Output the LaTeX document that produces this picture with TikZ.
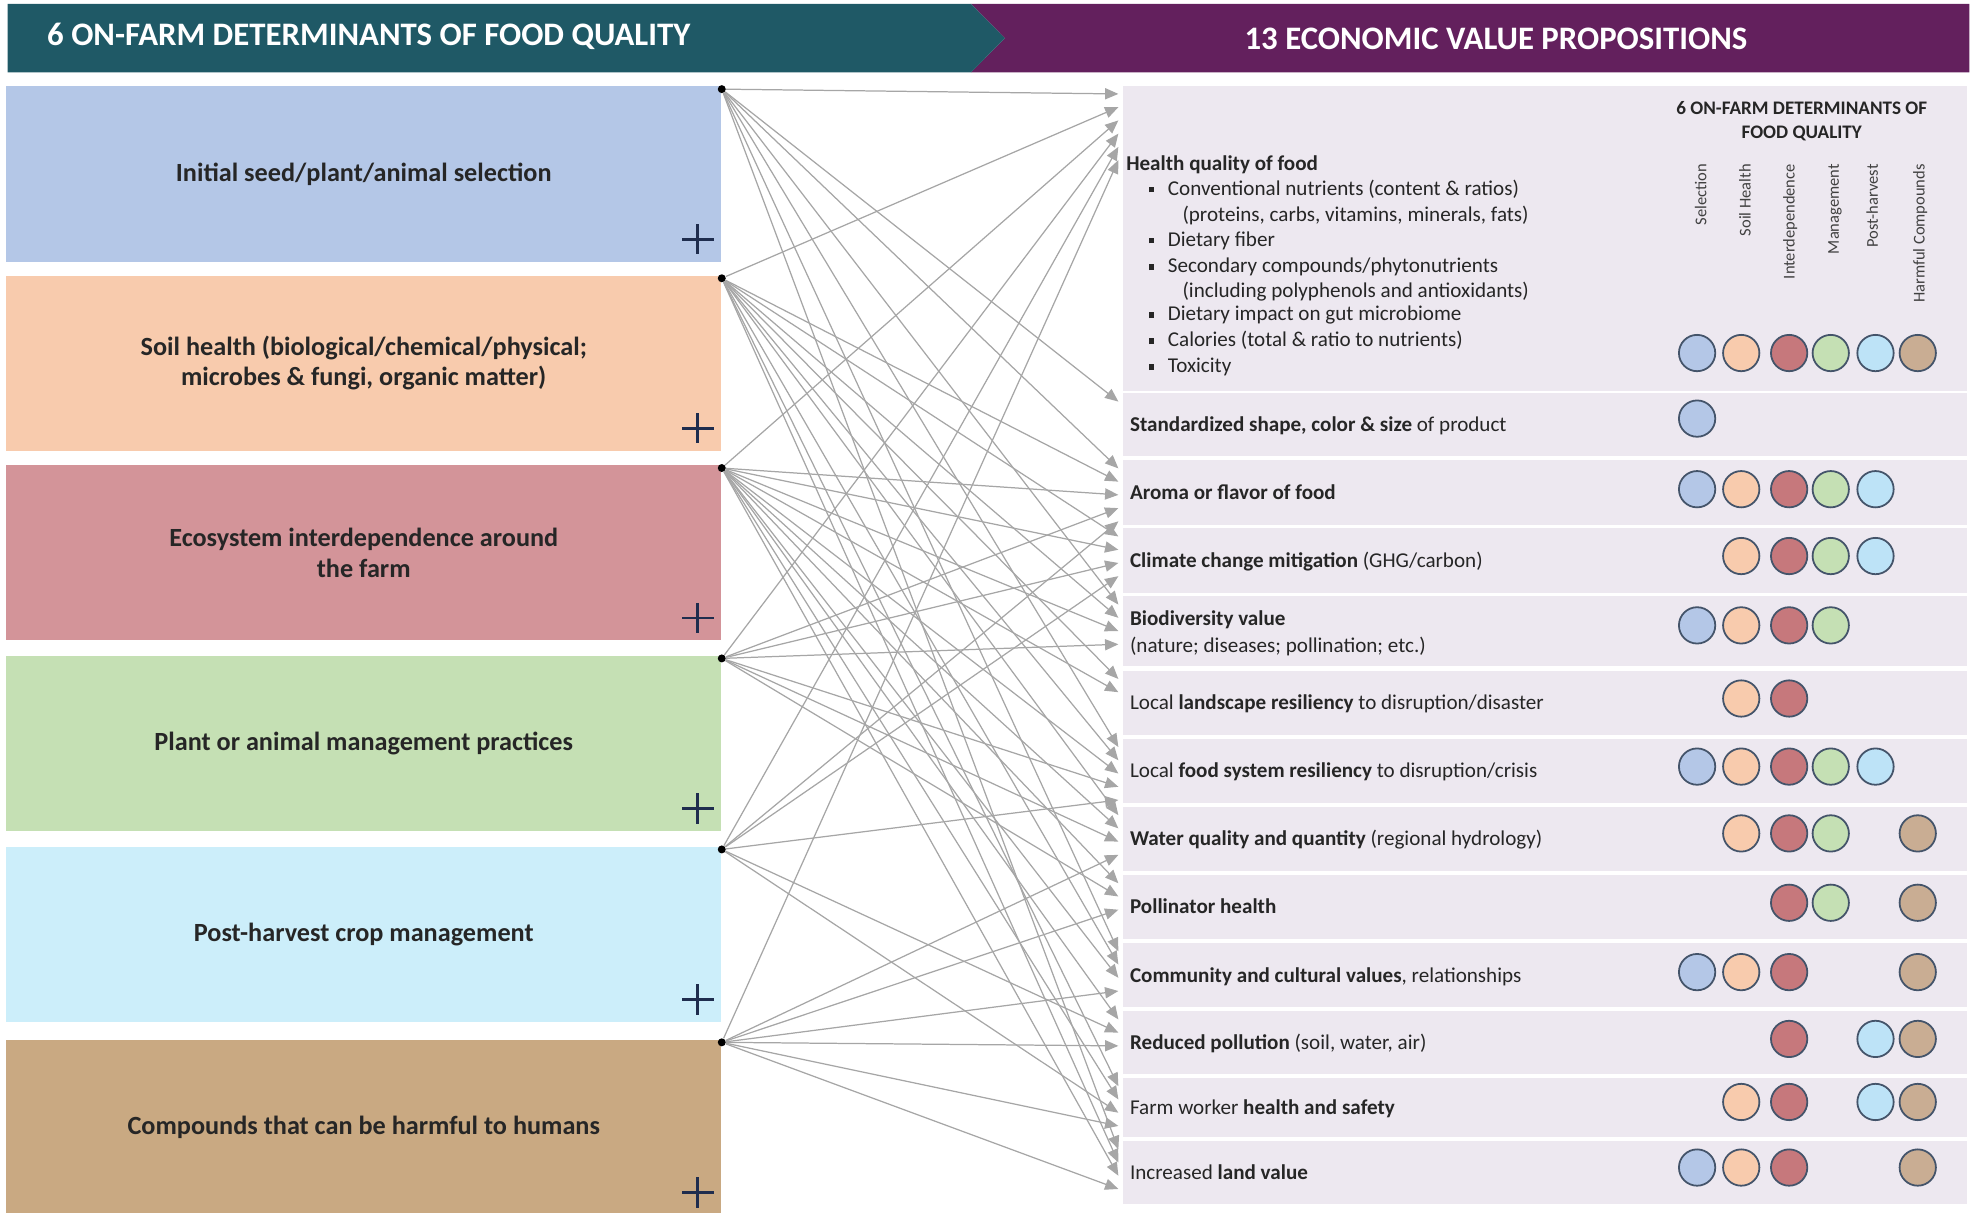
\documentclass[tikz,border=0pt]{standalone}
\usepackage{fontspec}
\setmainfont{Carlito}
\usetikzlibrary{arrows.meta,positioning}

\definecolor{headteal}{HTML}{1F5966}
\definecolor{headplum}{HTML}{63205D}
\definecolor{panelbg}{HTML}{EDE8F0}
\definecolor{selblue}{HTML}{B4C7E7}
\definecolor{soilpeach}{HTML}{F8CBAD}
\definecolor{ecorose}{HTML}{D39499}
\definecolor{mgmtgreen}{HTML}{C5E0B4}
\definecolor{postcyan}{HTML}{CCEEFA}
\definecolor{harmtan}{HTML}{C9A982}
\definecolor{circ1}{HTML}{B4C7E7}
\definecolor{circ2}{HTML}{F8CBAD}
\definecolor{circ3}{HTML}{C6787C}
\definecolor{circ4}{HTML}{C5E0B4}
\definecolor{circ5}{HTML}{BDE3F7}
\definecolor{circ6}{HTML}{C9AD93}
\definecolor{circline}{HTML}{44546A}
\definecolor{linkgray}{HTML}{A6A6A6}
\definecolor{plusnavy}{HTML}{1F2D4E}

\newcommand{\sqbul}{\rule[1.5pt]{3pt}{3.2pt}}
\newcommand{\hbul}{\makebox[0.375cm][l]{\sqbul}}

\tikzset{
  detbox/.style={rectangle, minimum width=14.18cm, minimum height=3.47cm,
    inner sep=0pt, align=center, text=black!85,
    font=\fontsize{14.8}{17.2}\selectfont\bfseries},
  headtext/.style={text=white, inner sep=0pt,
    font=\fontsize{18.5}{22}\selectfont\bfseries},
  valtext/.style={anchor=mid west, inner sep=0pt, text=black!85, yshift=-0.05cm,
    font=\fontsize{11.9}{14}\selectfont},
  collabel/.style={rotate=90, anchor=mid east, inner sep=0pt, text=black!75,
    font=\fontsize{9.3}{10}\selectfont},
  srcdot/.style={circle, fill=black, inner sep=0pt, minimum size=4.5pt},
  valdot/.style={circle, draw=circline, line width=1pt, minimum size=0.72cm,
    inner sep=0pt},
  link/.style={draw=linkgray, line width=0.7pt,
    -{Triangle[length=7.5pt,width=6.3pt]}},
  plusmark/.style={draw=plusnavy, line width=1.6pt},
}

\begin{document}
\begin{tikzpicture}[x=0.025cm,y=-0.025cm]
\useasboundingbox (0,0) rectangle (1568,961.3);

% banner
\fill[headplum] (770,3) -- (1562,3) -- (1562,57.5) -- (770,57.5) -- (797,30.3) -- cycle;
\fill[headteal] (6,3) -- (770,3) -- (797,30.3) -- (770,57.5) -- (6,57.5) -- cycle;
\node[headtext] (headleft) at (292.5,28.5) {6 ON-FARM DETERMINANTS OF FOOD QUALITY};
\node[headtext] (headright) at (1186.5,31) {13 ECONOMIC VALUE PROPOSITIONS};

% determinants
\node[detbox, fill=selblue] (sel) at (288.5,138) {Initial seed/plant/animal selection};
\node[detbox, fill=soilpeach] (soil) at (288.5,288) {Soil health (biological/chemical/physical;\\ microbes \& fungi, organic matter)};
\node[detbox, fill=ecorose] (eco) at (288.5,438.5) {Ecosystem interdependence around\\ the farm};
\node[detbox, fill=mgmtgreen] (mgmt) at (288.5,589.5) {Plant or animal management practices};
\node[detbox, fill=postcyan] (post) at (288.5,741) {Post-harvest crop management};
\node[detbox, fill=harmtan] (harm) at (288.5,894) {Compounds that can be harmful to humans};

\foreach \b in {sel,soil,eco,mgmt,post,harm}
  \draw[plusmark] ([shift={(-19,-18)}]\b.south east) ++(-12.5,0) -- ++(25,0)
    ++(-12.5,-12) -- ++(0,24);

% value rows
\foreach \top/\bot in {68/310,312/362,365/416,419/470,473/528,532/583,586/637,
    640/691,694/745,748/799,802/852,855/902,905/955}
  \fill[panelbg] (891,\top) rectangle (1560,\bot);

\node[font=\fontsize{10.8}{13.2}\selectfont\bfseries, align=center, text=black!85]
  (colhead) at (1429,96) {6 ON-FARM DETERMINANTS OF\\FOOD QUALITY};
\foreach \lab/\xx [count=\k] in {Selection/1350,Soil Health/1385,Interdependence/1420,
    Management/1455,Post-harvest/1486,Harmful Compounds/1523}
  \node[collabel] (col\k) at (\xx,130) {\lab};

\node[valtext] (v1) at (893,129.5) {\textbf{Health quality of food}};
\node[valtext] (v1a) at (911,149.4) {\hbul Conventional nutrients (content \& ratios)};
\node[valtext] (v1b) at (937.6,170.5) {(proteins, carbs, vitamins, minerals, fats)};
\node[valtext] (v1c) at (911,189.8) {\hbul Dietary fiber};
\node[valtext] (v1d) at (911,211) {\hbul Secondary compounds/phytonutrients};
\node[valtext] (v1e) at (937.6,230.5) {(including polyphenols and antioxidants)};
\node[valtext] (v1f) at (911,249) {\hbul Dietary impact on gut microbiome};
\node[valtext] (v1g) at (911,269.6) {\hbul Calories (total \& ratio to nutrients)};
\node[valtext] (v1h) at (911,290.3) {\hbul Toxicity};
\node[valtext] (v2) at (896,337) {\textbf{Standardized shape, color \& size} of product};
\node[valtext] (v3) at (896,390.5) {\textbf{Aroma or flavor of food}};
\node[valtext] (v4) at (896,444.5) {\textbf{Climate change mitigation} (GHG/carbon)};
\node[valtext] (v5) at (896,491) {\textbf{Biodiversity value}};
\node[valtext] (v5a) at (896,512) {(nature; diseases; pollination; etc.)};
\node[valtext] (v6) at (896,557.5) {Local \textbf{landscape resiliency} to disruption/disaster};
\node[valtext] (v7) at (896,611.5) {Local \textbf{food system resiliency} to disruption/crisis};
\node[valtext] (v8) at (896,665.5) {\textbf{Water quality and quantity} (regional hydrology)};
\node[valtext] (v9) at (896,719.5) {\textbf{Pollinator health}};
\node[valtext] (v10) at (896,773.5) {\textbf{Community and cultural values}, relationships};
\node[valtext] (v11) at (896,827) {\textbf{Reduced pollution} (soil, water, air)};
\node[valtext] (v12) at (896,878.5) {Farm worker \textbf{health and safety}};
\node[valtext] (v13) at (896,930) {Increased \textbf{land value}};

% source points
\foreach \b [count=\k] in {sel,soil,eco,mgmt,post,harm}
  \node[srcdot] (d\k) at ([yshift=-0.06cm]\b.north east) {};

% links and marks
\foreach \r/\ytop/\yc/\mem in {1/68/280/{1,2,3,4,5,6},2/312/332/{1},
    3/365/388/{1,2,3,4,5},4/419/441/{2,3,4,5},5/473/496/{1,2,3,4},
    6/532/554/{2,3},7/586/608/{1,2,3,4,5},8/640/661/{2,3,4,6},
    9/694/716/{3,4,6},10/748/771/{1,2,3,6},11/802/824/{3,5,6},
    12/855/874/{2,3,5,6},13/905/926/{1,2,3,6}}
  \foreach \s [count=\i from 0] in \mem {
    \coordinate (t\r-\i) at (887,\ytop+6.5+10.5*\i);
    \draw[link] (d\s) -- (t\r-\i);
    \pgfmathsetmacro\cx{{1346,1381,1419,1452,1487.5,1521}[\s-1]}
    \node[valdot, fill=circ\s] (c\r-\s) at (\cx,\yc) {};
  }

\end{tikzpicture}
\end{document}
